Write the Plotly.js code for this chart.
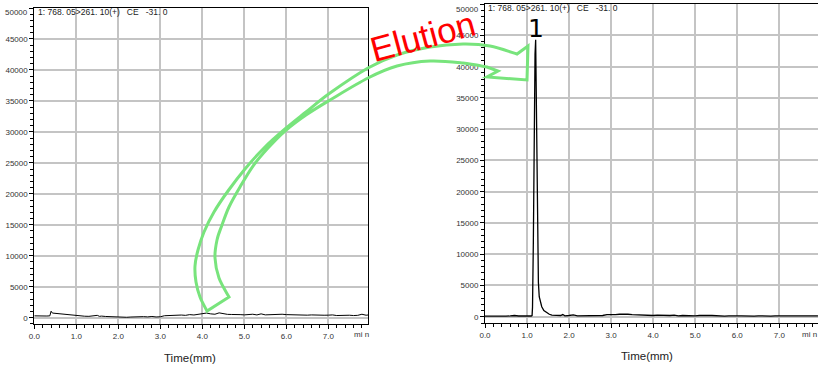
<!DOCTYPE html>
<html>
<head>
<meta charset="utf-8">
<script src="https://cdn.plot.ly/plotly-3.0.1.min.js"></script>
<style>html,body{margin:0;padding:0;background:#fff;}#chart{width:818px;height:367px;}</style>
</head>
<body>
<div id="chart"></div>
<script>
// ---- data ----
const leftTime = [0.0,0.1,0.2,0.3,0.37,0.40,0.43,0.5,0.6,0.7,0.8,0.9,1.0,1.1,1.2,1.3,1.4,1.5,1.55,1.6,1.7,1.8,1.9,2.0,2.1,2.2,2.3,2.4,2.5,2.6,2.7,2.8,2.9,3.0,3.1,3.2,3.3,3.4,3.5,3.6,3.7,3.8,3.9,4.0,4.1,4.2,4.3,4.4,4.5,4.6,4.7,4.8,4.9,5.0,5.1,5.2,5.3,5.4,5.5,5.6,5.7,5.8,5.9,6.0,6.1,6.2,6.3,6.4,6.5,6.6,6.7,6.8,6.9,7.0,7.1,7.2,7.3,7.4,7.5,7.6,7.7,7.8,7.9,7.96];
const leftIntensity = [300,250,320,270,300,1050,750,700,620,560,480,400,300,260,240,220,250,380,220,260,200,150,100,60,90,70,110,160,100,170,130,200,120,150,320,360,340,400,430,380,500,440,520,550,750,620,560,780,600,540,520,560,500,460,520,560,450,620,460,500,440,520,560,500,460,450,400,460,410,450,400,440,400,410,450,350,400,340,400,350,380,560,400,450];

const rightTime = [0.0,0.1,0.2,0.3,0.4,0.5,0.6,0.7,0.8,0.9,1.0,1.05,1.10,1.12,1.13,1.15,1.17,1.19,1.205,1.22,1.235,1.25,1.27,1.29,1.32,1.35,1.40,1.47,1.53,1.59,1.7,1.8,1.85,1.9,2.0,2.1,2.2,2.3,2.4,2.5,2.6,2.7,2.8,2.9,3.0,3.1,3.2,3.3,3.4,3.5,3.6,3.7,3.8,3.9,4.0,4.1,4.2,4.3,4.4,4.5,4.6,4.7,4.8,4.9,5.0,5.1,5.2,5.3,5.4,5.5,5.6,5.7,5.8,5.9,6.0,6.1,6.2,6.3,6.4,6.5,6.6,6.7,6.8,6.9,7.0,7.1,7.2,7.3,7.4,7.5,7.6,7.7,7.8,7.92];
const rightIntensity = [100,80,120,90,110,100,130,200,120,90,100,80,120,200,1500,12000,30000,42000,44300,36000,22000,11000,5500,3200,2200,1600,1000,620,400,260,250,200,350,150,200,300,150,150,100,150,100,150,200,350,300,350,400,450,400,350,300,250,250,200,200,250,200,250,200,250,150,200,150,200,150,200,150,200,200,150,150,100,150,100,150,150,100,150,100,150,100,150,100,150,150,100,150,100,200,150,100,150,200,150];

const yTickVals = [0,5000,10000,15000,20000,25000,30000,35000,40000,45000,50000];
const yTickText = ['0','5000','10000','15000','20000','25000','30000','35000','40000','45000',''];
const xTitle = 'Time(mm)';
const headerText = '1: 768. 05>261. 10(+)   CE   -31. 0';
const peakLabel = '1';
const peakTime = 1.205;

// ---- layout helpers ----
const W = 818, H = 367;
const px = v => v / W;
const py = v => 1 - v / H;

// curved "Elution" arrow outline, in pixel points (decoration)
const curveA = [[207,311],[200,297],[196,282],[195,266],[198,250],[204,232],[214,212],[228,191],[245,169],[264,148],[285,129],[306,112],[330,93],[368,68],[397,55],[430,47],[463,44],[490,46],[517,54]];
const head = [[528,46],[527,80],[487,77],[498,71],[487,67]];
const curveB = [[487,67],[463,63],[430,61],[397,66],[368,78],[330,100],[306,115],[285,131],[268,148],[253,166],[240,187],[229,207],[222,225],[217,240],[215,258],[219,278],[229,297]];

function pt(p){ return px(p[0]).toFixed(5) + ',' + py(p[1]).toFixed(5); }
function smooth(pts){
  let s = '';
  for (let i = 0; i < pts.length - 1; i++) {
    const p0 = pts[Math.max(i-1,0)], p1 = pts[i], p2 = pts[i+1], p3 = pts[Math.min(i+2,pts.length-1)];
    const c1 = [p1[0] + (p2[0]-p0[0])/6, p1[1] + (p2[1]-p0[1])/6];
    const c2 = [p2[0] - (p3[0]-p1[0])/6, p2[1] - (p3[1]-p1[1])/6];
    s += ' C ' + pt(c1) + ' ' + pt(c2) + ' ' + pt(p2);
  }
  return s;
}
let arrowPath = 'M ' + pt(curveA[0]) + smooth(curveA);
head.forEach(p => { arrowPath += ' L ' + pt(p); });
arrowPath += smooth(curveB) + ' Z';

const font = 'Liberation Sans, Arial, sans-serif';
const tickFont = {family: font, size: 8, color: '#333'};

function xAxis(domain, range, anchor){
  return {
    domain: domain, range: range, anchor: anchor,
    showline: true, linecolor: '#000', linewidth: 1, mirror: true,
    showgrid: true, gridcolor: '#c4c4c4', gridwidth: 2, zeroline: false,
    dtick: 1, tick0: 0, tickformat: '.1f',
    ticks: 'outside', ticklen: 4, tickwidth: 1, tickcolor: '#000',
    minor: {dtick: 0.2, tick0: 0, ticks: 'outside', ticklen: 3, tickcolor: '#000', showgrid: false},
    tickfont: tickFont, fixedrange: true
  };
}
function yAxis(domain, anchor){
  return {
    domain: domain, range: [-1000, 50000], anchor: anchor,
    showline: true, linecolor: '#000', linewidth: 1, mirror: true,
    showgrid: true, gridcolor: '#c4c4c4', gridwidth: 2, zeroline: false,
    tickmode: 'array', tickvals: yTickVals, ticktext: yTickText,
    ticks: 'outside', ticklen: 4, tickwidth: 1, tickcolor: '#000',
    minor: {dtick: 1000, tick0: 0, ticks: 'outside', ticklen: 3, tickcolor: '#000', showgrid: false},
    tickfont: tickFont, fixedrange: true
  };
}

const traces = [
  {x: leftTime, y: leftIntensity, xaxis: 'x', yaxis: 'y', type: 'scatter', mode: 'lines',
   line: {color: '#000', width: 1}, hoverinfo: 'none'},
  {x: rightTime, y: rightIntensity, xaxis: 'x2', yaxis: 'y2', type: 'scatter', mode: 'lines',
   line: {color: '#000', width: 1.3}, hoverinfo: 'none'}
];

const layout = {
  width: W, height: H,
  margin: {l: 0, r: 0, t: 0, b: 0},
  paper_bgcolor: '#fff', plot_bgcolor: '#fff',
  showlegend: false,
  xaxis: xAxis([px(34.3), px(368)], [0, 7.945], 'y'),
  yaxis: yAxis([py(323.9), py(8)], 'x'),
  xaxis2: xAxis([px(485), 1], [0, 7.921], 'y2'),
  yaxis2: yAxis([py(323), py(4.2)], 'x2'),
  shapes: [
    {type: 'path', xref: 'paper', yref: 'paper', path: arrowPath,
     line: {color: '#78e47c', width: 3}, fillcolor: 'rgba(0,0,0,0)', layer: 'above'}
  ],
  annotations: [
    {xref: 'paper', yref: 'paper', x: px(190), y: py(358), text: xTitle, showarrow: false,
     xanchor: 'center', yanchor: 'middle', font: {family: font, size: 11.5, color: '#222'}},
    {xref: 'paper', yref: 'paper', x: px(647), y: py(356), text: xTitle, showarrow: false,
     xanchor: 'center', yanchor: 'middle', font: {family: font, size: 11.5, color: '#222'}},
    {xref: 'paper', yref: 'paper', x: px(36), y: py(12), text: headerText, showarrow: false,
     xanchor: 'left', yanchor: 'middle', font: {family: font, size: 8.5, color: '#222'}},
    {xref: 'paper', yref: 'paper', x: px(486), y: py(7.5), text: headerText, showarrow: false,
     xanchor: 'left', yanchor: 'middle', font: {family: font, size: 8.5, color: '#222'}},
    {xref: 'paper', yref: 'paper', x: px(30), y: py(12), text: '50000', showarrow: false,
     xanchor: 'right', yanchor: 'middle', font: tickFont},
    {xref: 'paper', yref: 'paper', x: px(481), y: py(9), text: '50000', showarrow: false,
     xanchor: 'right', yanchor: 'middle', font: tickFont},
    {xref: 'paper', yref: 'paper', x: px(361), y: py(334), text: 'mi n', showarrow: false,
     xanchor: 'center', yanchor: 'middle', font: tickFont},
    {xref: 'paper', yref: 'paper', x: px(809), y: py(334), text: 'mi n', showarrow: false,
     xanchor: 'center', yanchor: 'middle', font: tickFont},
    {xref: 'x2', yref: 'paper', x: peakTime, y: py(28), text: peakLabel, showarrow: false,
     xanchor: 'center', yanchor: 'middle', font: {family: 'DejaVu Sans, sans-serif', size: 25, color: '#000'}},
    {xref: 'paper', yref: 'paper', x: px(422), y: py(36), text: 'Elution', showarrow: false,
     textangle: -15, xanchor: 'center', yanchor: 'middle', font: {family: font, size: 35, color: '#ff0000'}}
  ]
};

Plotly.newPlot('chart', traces, layout, {displayModeBar: false, staticPlot: true});
</script>
</body>
</html>
